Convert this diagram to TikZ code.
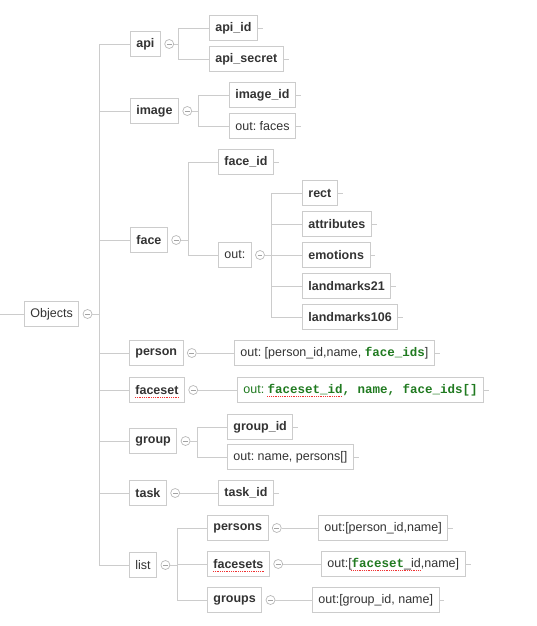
\documentclass[tikz,border=0pt]{standalone}
\usepackage{fontspec}
\setmainfont{Liberation Sans}
\newfontfamily\dengkuan{Liberation Mono}
\usetikzlibrary{positioning,calc}
\definecolor{zi}{HTML}{333333}
\definecolor{huixian}{HTML}{CCCCCC}
\definecolor{lv}{RGB}{32,122,32}
\definecolor{hong}{RGB}{240,50,50}
\frenchspacing
\newcommand{\mabf}[1]{{\dengkuan\bfseries #1}}

\begin{document}
\begin{tikzpicture}[x=1pt,y=-1pt,font=\fontsize{12.5}{15}\selectfont,text=zi]
	\tikzstyle{kuang}=[draw=huixian,line width=0.8pt,anchor=west,minimum height=25pt,inner xsep=6pt,inner ysep=0pt];
	\tikzstyle{cu}=[kuang,font=\fontsize{12.5}{15}\selectfont\bfseries];
	\tikzstyle{quan}=[circle,draw=huixian!90!black,line width=0.7pt,minimum size=9pt,inner sep=0pt,
		path picture={\draw[huixian!80!black,line width=0.7pt] (-2.4,0) -- (2.4,0);}];
	\tikzstyle{xian}=[draw=huixian,line width=0.8pt];
	\tikzstyle{hongdian}=[draw=hong,line width=1pt,dash pattern=on 1pt off 0.8pt];
	\useasboundingbox (0,0) rectangle (536,626);
	%% root
	\coordinate (start) at (0,314);
	\node[kuang] (objects) at (24,314) {Objects};
	\node[quan,right=3.5pt of objects] (objq) {};
	\coordinate (t0) at (99,314);
	\draw[xian] (start) -- (objects);
	%% first level
	\node[cu] (api) at (130,44) {api};
	\node[cu] (image) at (130,111) {image};
	\node[cu] (face) at (130,240) {face};
	\node[cu] (person) at (129,353) {person};
	\node[cu] (faceset) at (129,390) {faceset};
	\node[cu] (group) at (129,441) {group};
	\node[cu] (task) at (129,493) {task};
	\node[kuang] (list) at (129,565) {list};
	\foreach \n in {api,image,face,person,faceset,group,task,list}
		\draw[xian] (objq) -- (t0) |- (\n);
	%% api
	\node[quan,right=3.5pt of api] (apiq) {};
	\coordinate (apit) at (178,44);
	\node[cu] (apiid) at (209,28) {api\_id};
	\node[cu] (apisecret) at (209,59) {api\_secret};
	\draw[xian] (apiq) -- (apit) |- (apiid) (apit) |- (apisecret);
	%% image
	\node[quan,right=3.5pt of image] (imageq) {};
	\coordinate (imaget) at (198,111);
	\node[cu] (imageid) at (229,95) {image\_id};
	\node[kuang] (imageout) at (229,126) {out: faces};
	\draw[xian] (imageq) -- (imaget) |- (imageid) (imaget) |- (imageout);
	%% face
	\node[quan,right=3.5pt of face] (faceq) {};
	\coordinate (facet) at (188,240);
	\node[cu] (faceid) at (218,162) {face\_id};
	\node[kuang] (faceout) at (218,255) {out:};
	\draw[xian] (faceq) -- (facet) |- (faceid) (facet) |- (faceout);
	\node[quan,right=3.5pt of faceout] (faceoutq) {};
	\coordinate (faceoutt) at (271,255);
	\node[cu] (rect) at (302,193) {rect};
	\node[cu] (attributes) at (302,224) {attributes};
	\node[cu] (emotions) at (302,255) {emotions};
	\node[cu] (lma) at (302,286) {landmarks21};
	\node[cu] (lmb) at (302,317) {landmarks106};
	\draw[xian] (faceoutq) -- (faceoutt);
	\foreach \n in {rect,attributes,emotions,lma,lmb}
		\draw[xian] (faceoutt) |- (\n);
	%% person, faceset
	\node[quan,right=3.5pt of person] (personq) {};
	\node[kuang] (personout) at (234,353) {out: [person\_id,name, \textcolor{lv}{\mabf{face\_ids}}]};
	\draw[xian] (personq) -- (personout);
	\node[quan,right=3.5pt of faceset] (facesetq) {};
	\node[kuang,text=lv] (facesetout) at (237,390) {out: \mabf{faceset\_id, name, face\_ids[]}};
	\draw[xian] (facesetq) -- (facesetout);
	%% group
	\node[quan,right=3.5pt of group] (groupq) {};
	\coordinate (groupt) at (197,441);
	\node[cu] (groupid) at (227,427) {group\_id};
	\node[kuang] (groupout) at (227,457) {out: name, persons[]};
	\draw[xian] (groupq) -- (groupt) |- (groupid) (groupt) |- (groupout);
	%% task
	\node[quan,right=3.5pt of task] (taskq) {};
	\node[cu] (taskid) at (218,493) {task\_id};
	\draw[xian] (taskq) -- (taskid);
	%% list
	\node[quan,right=3.5pt of list] (listq) {};
	\coordinate (listt) at (177,565);
	\node[cu] (persons) at (207,528) {persons};
	\node[cu] (facesets) at (207,564) {facesets};
	\node[cu] (groups) at (207,600) {groups};
	\draw[xian] (listq) -- (listt);
	\foreach \n in {persons,facesets,groups}
		\draw[xian] (listt) |- (\n);
	\node[quan,right=3.5pt of persons] (personsq) {};
	\node[kuang] (personsout) at (318,528) {out:[person\_id,name]};
	\node[quan,right=3.5pt of facesets] (facesetsq) {};
	\node[kuang] (facesetsout) at (321,564) {out:[\textcolor{lv}{\mabf{faceset}}\_id,name]};
	\node[quan,right=3.5pt of groups] (groupsq) {};
	\node[kuang] (groupsout) at (312,600) {out:[group\_id, name]};
	\draw[xian] (personsq) -- (personsout) (facesetsq) -- (facesetsout) (groupsq) -- (groupsout);
	%% small ends after the leaves
	\foreach \n in {apiid,apisecret,imageid,imageout,faceid,rect,attributes,emotions,lma,lmb,personout,facesetout,groupid,groupout,taskid,personsout,facesetsout,groupsout}
		\draw[xian] (\n.east) -- ++(5,0);
	%% red dots of the spell check
	\draw[hongdian] ($(faceset.base west)+(6,2.8)$) -- ($(faceset.base east)+(-6,2.8)$);
	\draw[hongdian] ($(facesets.base west)+(6,2.8)$) -- ($(facesets.base east)+(-6,2.8)$);
	\draw[hongdian] ($(facesetout.base west)+(30.3,2.8)$) -- ++(75,0);
	\draw[hongdian] ($(facesetsout.base west)+(30.3,2.8)$) -- ++(69,0);
\end{tikzpicture}
\end{document}
